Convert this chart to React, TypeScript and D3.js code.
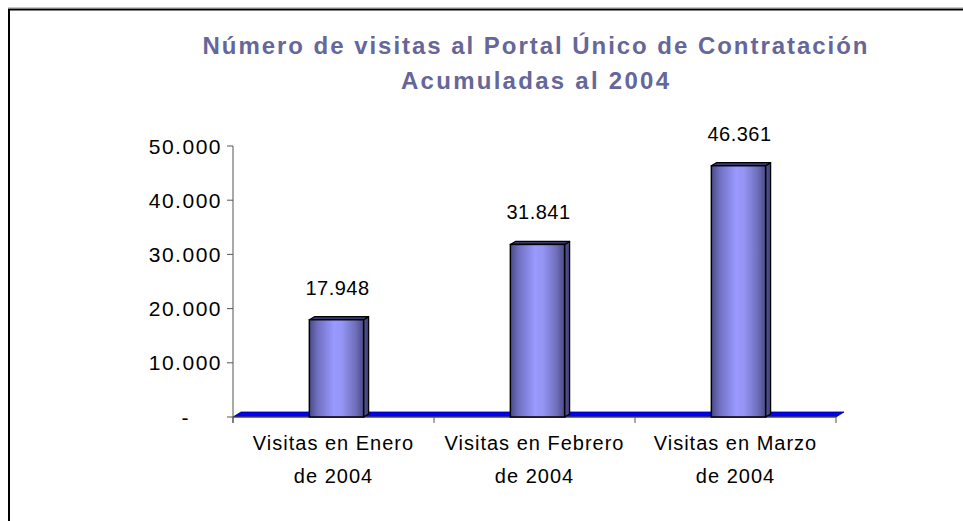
import React from "react";
import * as d3 from "d3";

const categories = ["Visitas en Enero|de 2004", "Visitas en Febrero|de 2004", "Visitas en Marzo|de 2004"];
const values = [17948, 31841, 46361];
const valueLabels = ["17.948", "31.841", "46.361"];
const yTicks = [0, 10000, 20000, 30000, 40000, 50000];
const yTickLabels = ["-", "10.000", "20.000", "30.000", "40.000", "50.000"];
const titleLines = ["Número de visitas al Portal Único de Contratación", "Acumuladas al 2004"];

export default function App() {
  const W = 963, H = 521;
  const x = d3.scaleBand().domain(categories).range([233, 836]);
  const y = d3.scaleLinear().domain([0, 50000]).range([417, 146]);
  const dx = 5, dy = -3;
  const fdx = 8, fdy = -5;
  const bw = x.bandwidth() * 0.27;
  const font = "Arial, 'Liberation Sans', sans-serif";
  const titleLen = [665, 268];

  return (
    <svg width={W} height={H} style={{ position: "absolute", left: 0, top: 0 }}>
      <defs>
        <linearGradient id="front" x1="0" x2="1" y1="0" y2="0">
          <stop offset="0" stopColor="#4a4a8a" />
          <stop offset="0.15" stopColor="#6f6fc0" />
          <stop offset="0.45" stopColor="#9999ff" />
          <stop offset="0.6" stopColor="#9595f5" />
          <stop offset="0.85" stopColor="#6f6fbb" />
          <stop offset="1" stopColor="#4a4a88" />
        </linearGradient>
        <linearGradient id="side" x1="0" x2="1" y1="0" y2="0">
          <stop offset="0" stopColor="#5a5aa0" />
          <stop offset="1" stopColor="#38386a" />
        </linearGradient>
      </defs>
      <rect x={0} y={0} width={W} height={H} fill="#fff" />
      <line x1={8} y1={7.5} x2={W} y2={7.5} stroke="#c8c8c8" strokeWidth={1} />
      <path d={`M9,${H} V9.5 H${W}`} fill="none" stroke="#000" strokeWidth={2} />

      {titleLines.map((t, i) => (
        <text key={i} x={535} y={i === 0 ? 54 : 89} textAnchor="middle" fontFamily={font}
          fontWeight="bold" fontSize={24} fill="#666699"
          textLength={titleLen[i]} lengthAdjust="spacing">
          {t}
        </text>
      ))}

      {/* floor */}
      <path
        d={`M${x.range()[0]},${y(0)} L${x.range()[1]},${y(0)} L${x.range()[1] + fdx},${y(0) + fdy} L${x.range()[0] + fdx},${y(0) + fdy} Z`}
        fill="#0000ff" stroke="#000060" strokeWidth={0.8}
      />

      {/* y axis */}
      <line x1={233} y1={y(50000)} x2={233} y2={y(0) + 6} stroke="#555" strokeWidth={1} />
      {yTicks.map((t, i) => (
        <g key={t}>
          <line x1={227} x2={233} y1={y(t)} y2={y(t)} stroke="#555" />
          <text x={t === 0 ? 190 : 222} y={y(t) + 7.5} textAnchor="end" fontFamily={font} fontSize={21}
            letterSpacing={1.5} fill="#000">
            {yTickLabels[i]}
          </text>
        </g>
      ))}

      {/* x axis */}
      <line x1={233} x2={836} y1={y(0)} y2={y(0)} stroke="#555" />
      {[...categories.map((c) => x(c) as number), x.range()[1]].map((px, i) => (
        <line key={i} x1={px} x2={px} y1={y(0)} y2={y(0) + 6} stroke="#555" />
      ))}
      {categories.map((c) => {
        const cx = (x(c) as number) + x.bandwidth() / 2;
        const [l1, l2] = c.split("|");
        return (
          <g key={c}>
            <text x={cx} y={450} textAnchor="middle" fontFamily={font} fontSize={20} letterSpacing={1}>{l1}</text>
            <text x={cx} y={483} textAnchor="middle" fontFamily={font} fontSize={20} letterSpacing={1}>{l2}</text>
          </g>
        );
      })}

      {/* bars */}
      {categories.map((c, i) => {
        const cx = (x(c) as number) + x.bandwidth() / 2 + 3;
        const x0 = cx - bw / 2, x1 = cx + bw / 2;
        const yt = y(values[i]), yb = y(0);
        return (
          <g key={c}>
            <path d={`M${x1},${yb} L${x1 + dx},${yb + dy} L${x1 + dx},${yt + dy} L${x1},${yt} Z`}
              fill="url(#side)" stroke="#000" strokeWidth={1.2} strokeLinejoin="round" />
            <path d={`M${x0},${yt} L${x0 + dx},${yt + dy} L${x1 + dx},${yt + dy} L${x1},${yt} Z`}
              fill="#3a3a70" stroke="#000" strokeWidth={1.2} strokeLinejoin="round" />
            <rect x={x0} y={yt} width={bw} height={yb - yt} fill="url(#front)" stroke="#000" strokeWidth={1.5} />
            <text x={cx + 1} y={yt - 25} textAnchor="middle" fontFamily={font} fontSize={20} letterSpacing={0.5}>
              {valueLabels[i]}
            </text>
          </g>
        );
      })}
    </svg>
  );
}
